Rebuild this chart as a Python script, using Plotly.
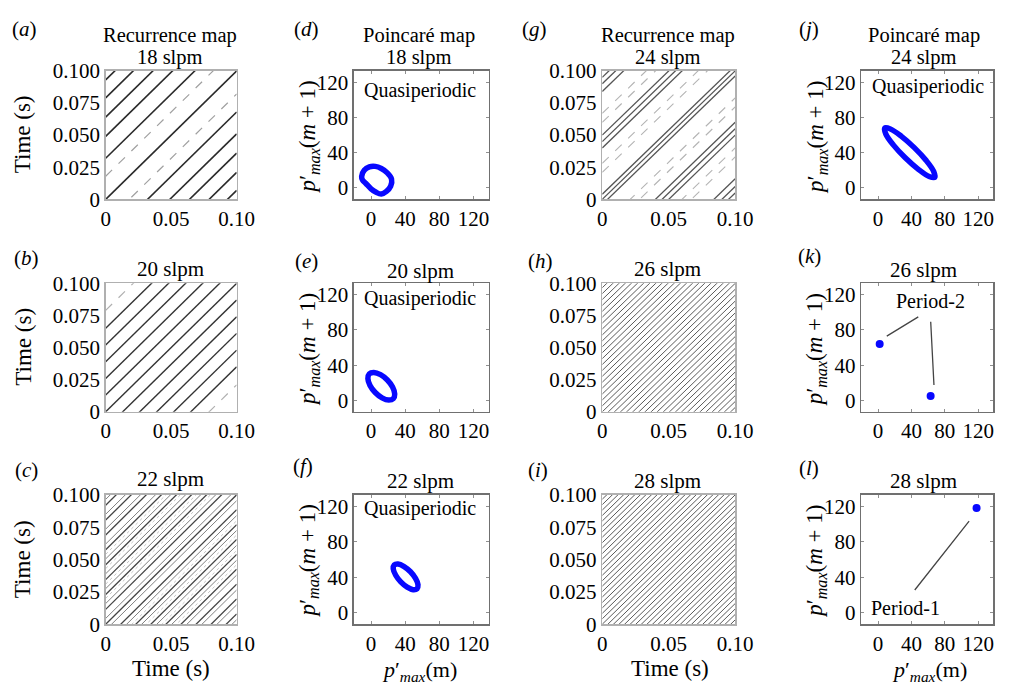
import plotly.graph_objects as go

# ---------------- data ----------------
# Recurrence maps: offsets c (s) of the recurrence lines y = x +/- c
a_solid = [0.0, 0.032, 0.049, 0.064, 0.079, 0.093]
a_dash = [0.018]
b_solid = [0.0, 0.013, 0.026, 0.039, 0.052, 0.065]
b_dash = [0.079]
c_solid = [0.0, 0.0115, 0.023, 0.0345, 0.046, 0.0575, 0.069, 0.0805, 0.092]
c_gray = [0.0045, 0.016, 0.0275, 0.039, 0.0505, 0.062, 0.0735, 0.085, 0.0965]
c_dot = [0.020, 0.031, 0.043, 0.054]
g_solid = [0.0, 0.004, 0.040, 0.045, 0.050, 0.084, 0.090, 0.095]
g_dash = [0.021, 0.028, 0.060, 0.067]
h_lines = [0.0, 0.0046, 0.0092, 0.0138, 0.0184, 0.0230, 0.0276, 0.0322, 0.0368,
           0.0414, 0.0460, 0.0506, 0.0552, 0.0598, 0.0644, 0.0690, 0.0736,
           0.0782, 0.0828, 0.0874, 0.0920, 0.0966]
i_lines = [0.0, 0.0042, 0.0084, 0.0126, 0.0168, 0.0210, 0.0252, 0.0294, 0.0336,
           0.0378, 0.0420, 0.0462, 0.0504, 0.0546, 0.0588, 0.0630, 0.0672,
           0.0714, 0.0756, 0.0798, 0.0840, 0.0882, 0.0924, 0.0966]

# Poincare maps: p'max(m) vs p'max(m+1)
d_x = [-11, -8, -2, 5, 12, 19, 24, 23, 18, 12, 6, 0, -6, -10]
d_y = [13, 20, 24, 24.5, 22, 17, 10, 2, -4, -7, -5, -1, 5, 9]
e_x = [26.1, 27.7, 25.2, 19.1, 11.1, 3.3, -2.1, -3.7, -1.2, 4.9, 12.9, 20.7]
e_y = [1.9, 7.3, 15.1, 23.1, 29.2, 31.7, 30.1, 24.7, 16.9, 8.9, 2.8, 0.3]
f_x = [53.9, 55.0, 52.1, 46.2, 38.7, 31.6, 27.1, 26.0, 28.9, 34.8, 42.3, 49.4]
f_y = [27.1, 31.6, 38.7, 46.2, 52.1, 55.0, 53.9, 49.4, 42.3, 34.8, 28.9, 26.0]
j_x = [68, 66.6, 57.7, 43.4, 27.7, 14.8, 8, 9.4, 18.3, 32.6, 48.3, 61.2]
j_y = [12, 18.8, 31.1, 45.8, 58.9, 67, 68, 61.2, 48.9, 34.2, 21.1, 13]
k_x = [2, 63]
k_y = [64, 5]
l_x = [118]
l_y = [118]

rec_xticks = [0, 0.05, 0.10]
rec_xtext = ["0", "0.05", "0.10"]
rec_yticks = [0, 0.025, 0.05, 0.075, 0.10]
rec_ytext = ["0", "0.025", "0.050", "0.075", "0.100"]
poi_ticks = [0, 40, 80, 120]

panel_letters = ["a", "b", "c", "d", "e", "f", "g", "h", "i", "j", "k", "l"]
flows = ["18 slpm", "20 slpm", "22 slpm", "24 slpm", "26 slpm", "28 slpm"]

# ---------------- layout geometry (pixels) ----------------
W, H = 1023, 699
cols_px = [(103, 237), (357, 495), (611, 747), (876, 1011)]
rows_px = [(61, 194), (281, 414), (500, 634)]
FONT = "Liberation Serif"


def px(x):
    return x / W


def py(y):
    return 1 - y / H


fig = go.Figure()


def ax_names(n):
    return ("x" if n == 1 else f"x{n}"), ("y" if n == 1 else f"y{n}")


def diag_trace(n, offsets, color, width, dash="solid", mirror=True):
    xs, ys = [], []
    cs = []
    for c in offsets:
        cs.append(c)
        if mirror and c != 0:
            cs.append(-c)
    for c in cs:
        xs += [0, 0.1, None]
        ys += [c, 0.1 + c, None]
    xa, ya = ax_names(n)
    fig.add_trace(go.Scatter(x=xs, y=ys, mode="lines", xaxis=xa, yaxis=ya,
                             line=dict(color=color, width=width, dash=dash),
                             hoverinfo="skip", showlegend=False))


def ring_trace(n, x, y):
    xa, ya = ax_names(n)
    fig.add_trace(go.Scatter(x=list(x) + [x[0]], y=list(y) + [y[0]], mode="lines",
                             xaxis=xa, yaxis=ya,
                             line=dict(color="#0808ff", width=5.5, shape="spline",
                                       smoothing=1.0),
                             showlegend=False))


def dot_trace(n, x, y):
    xa, ya = ax_names(n)
    fig.add_trace(go.Scatter(x=x, y=y, mode="markers", xaxis=xa, yaxis=ya,
                             marker=dict(color="#0808ff", size=8),
                             showlegend=False))


# recurrence maps: a=1, b=2, c=3, g=7, h=8, i=9
diag_trace(1, a_solid, "#2a2a2a", 1.6)
diag_trace(1, a_dash, "#a0a0a0", 1.2, "dash")
diag_trace(2, b_solid, "#333333", 1.4)
diag_trace(2, b_dash, "#b0b0b0", 1.2, "dash")
diag_trace(3, c_dot, "#c4c4c4", 1.0, "dot")
diag_trace(3, c_gray, "#808080", 1.0)
diag_trace(3, c_solid, "#444444", 1.3)
diag_trace(7, g_dash, "#b4b4b4", 1.1, "dash")
diag_trace(7, g_solid, "#555555", 1.3)
diag_trace(8, h_lines, "#5a5a5a", 1.0)
diag_trace(9, i_lines, "#5a5a5a", 1.0)

# Poincare maps: d=4, e=5, f=6, j=10, k=11, l=12
ring_trace(4, d_x, d_y)
ring_trace(5, e_x, e_y)
ring_trace(6, f_x, f_y)
ring_trace(10, j_x, j_y)
dot_trace(11, k_x, k_y)
dot_trace(12, l_x, l_y)

tickfont = dict(family=FONT, size=21, color="black")
layout = dict(width=W, height=H, margin=dict(l=0, r=0, t=0, b=0),
              paper_bgcolor="white", plot_bgcolor="white",
              font=dict(family=FONT, size=20, color="black"), showlegend=False)

for n in range(1, 13):
    col = (n - 1) // 3
    row = (n - 1) % 3
    x0, x1 = cols_px[col]
    y0, y1 = rows_px[row]
    xk = "xaxis" if n == 1 else f"xaxis{n}"
    yk = "yaxis" if n == 1 else f"yaxis{n}"
    xa, ya = ax_names(n)
    recurrence = col in (0, 2)
    if recurrence:
        xcfg = dict(range=[0, 0.1], tickvals=rec_xticks, ticktext=rec_xtext,
                    showline=True, linecolor="#b0b0b0", linewidth=1.5, mirror=True,
                    ticks="", showgrid=False, zeroline=False)
        ycfg = dict(range=[0, 0.1], tickvals=rec_yticks, ticktext=rec_ytext,
                    showline=True, linecolor="#b0b0b0", linewidth=1.5, mirror=True,
                    ticks="", showgrid=False, zeroline=False)
    else:
        xcfg = dict(range=[-20, 138], tickvals=poi_ticks,
                    showline=True, linecolor="#707070", linewidth=1.5, mirror="ticks",
                    ticks="inside", ticklen=3, tickcolor="#909090",
                    showgrid=False, zeroline=False)
        ycfg = dict(range=[-13, 133], tickvals=poi_ticks,
                    showline=True, linecolor="#707070", linewidth=1.5, mirror="ticks",
                    ticks="inside", ticklen=3, tickcolor="#909090",
                    showgrid=False, zeroline=False)
    xcfg.update(domain=[px(x0), px(x1)], anchor=ya, tickfont=tickfont, fixedrange=True)
    ycfg.update(domain=[py(y1), py(y0)], anchor=xa, tickfont=tickfont, fixedrange=True)
    layout[xk] = xcfg
    layout[yk] = ycfg

fig.update_layout(**layout)

ann = []


def text(xp, yp, t, size=20, angle=0):
    ann.append(dict(x=px(xp), y=py(yp), xref="paper", yref="paper", text=t,
                    showarrow=False, xanchor="center", yanchor="middle",
                    textangle=angle, font=dict(family=FONT, size=size, color="black")))


# panel letters
letter_pos = [(20, 18), (22, 255), (22, 474), (308, 18), (308, 258), (305, 470),
              (542, 18), (548, 258), (545, 474), (823, 18), (823, 253), (822, 472)]
for L, (xp, yp) in zip(panel_letters, letter_pos):
    text(xp, yp, f"(<i>{L}</i>)", 21)

# titles
text(169, 24, "Recurrence map", 20.5)
text(169, 47, flows[0], 20.5)
text(424, 24, "Poincaré map", 20.5)
text(424, 47, flows[0], 20.5)
text(678, 24, "Recurrence map", 20.5)
text(678, 47, flows[3], 20.5)
text(940, 24, "Poincaré map", 20.5)
text(940, 47, flows[3], 20.5)
text(169, 266, flows[1], 21)
text(425, 268, flows[1], 21)
text(678, 266, flows[4], 21)
text(940, 267, flows[4], 21)
text(169, 484, flows[2], 21)
text(425, 486, flows[2], 21)
text(678, 486, flows[5], 21)
text(940, 486, flows[5], 21)

# axis titles
for yc in (127, 347, 567):
    text(18, yc, "Time (s)", 23, -90)
for xc in (311, 830):
    for yc in (130, 350, 569):
        text(xc, yc, "<i>p</i>′<sub><i>max</i></sub>(<i>m</i> + 1)", 23, -90)
text(170, 680, "Time (s)", 23)
text(680, 680, "Time (s)", 23)
text(424, 682, "<i>p</i>′<sub><i>max</i></sub>(m)", 22)
text(946, 682, "<i>p</i>′<sub><i>max</i></sub>(m)", 22)


# in-panel labels (data coordinates)
def dtext(n, x, y, t):
    xa, ya = ax_names(n)
    ann.append(dict(x=x, y=y, xref=xa, yref=ya, text=t, showarrow=False,
                    xanchor="center", yanchor="middle",
                    font=dict(family=FONT, size=20, color="black")))


def pointer(n, x, y, ax, ay):
    xa, ya = ax_names(n)
    ann.append(dict(x=x, y=y, xref=xa, yref=ya, ax=ax, ay=ay, axref=xa, ayref=ya,
                    text="", showarrow=True, arrowhead=0, arrowwidth=1.3,
                    arrowcolor="#444444"))


dtext(4, 57, 111, "Quasiperiodic")
dtext(5, 57, 116, "Quasiperiodic")
dtext(6, 57, 118, "Quasiperiodic")
dtext(10, 60, 115, "Quasiperiodic")
dtext(11, 63, 113, "Period-2")
pointer(11, 10.5, 73, 50, 96)
pointer(11, 67, 17.5, 63, 91)
dtext(12, 33, 5.5, "Period-1")
pointer(12, 44, 25.6, 110.5, 105)

fig.update_layout(annotations=ann)
fig.write_html(
    "out.html",
    config={"displayModeBar": False, "staticPlot": True},
    post_script=(
        "var s=document.createElement('style');"
        "s.textContent='html,body{margin:0;padding:0;overflow:hidden;"
        "width:1023px;height:699px;}';"
        "document.head.appendChild(s);"
    ),
)
